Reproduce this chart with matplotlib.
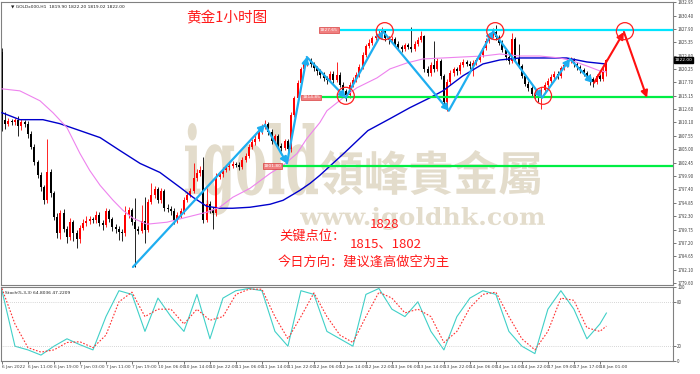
import numpy as np
import matplotlib
matplotlib.use('Agg')
import matplotlib.pyplot as plt
import matplotlib.transforms as mtransforms
from matplotlib.textpath import TextPath
from matplotlib.patches import PathPatch
from matplotlib.font_manager import FontProperties

plt.rcParams['font.family'] = ['Noto Sans CJK SC', 'DejaVu Sans']

# === OHLC (GOLD H1) ===
first_open = 1823.5
closes = [1810.5, 1809.8, 1810.3, 1810.1, 1810.6, 1809.4, 1810.2, 1809.9, 1808.0, 1805.5,
          1802.5, 1800.2, 1797.8, 1795.3, 1800.6, 1796.6, 1792.2, 1789.0, 1792.8, 1789.9,
          1788.3, 1791.2, 1789.0, 1787.9, 1790.1, 1791.0, 1791.3, 1791.8, 1791.5, 1792.6,
          1791.0, 1790.6, 1793.2, 1791.8, 1790.3, 1789.9, 1789.3, 1789.0, 1792.6, 1793.5,
          1791.2, 1789.8, 1789.5, 1791.3, 1789.6, 1795.0, 1796.4, 1797.4, 1795.3, 1797.0,
          1793.8, 1793.6, 1793.2, 1791.6, 1792.5, 1793.2, 1795.3, 1796.3, 1797.0, 1799.6,
          1800.5, 1801.0, 1791.6, 1794.6, 1793.4, 1792.8, 1799.8, 1800.3, 1801.0, 1801.6,
          1801.9, 1802.2, 1802.1, 1801.6, 1803.0, 1803.8, 1805.5, 1806.4, 1807.0, 1808.5,
          1809.3, 1809.8, 1808.3, 1806.6, 1807.5, 1805.6, 1805.2, 1806.5, 1805.0, 1811.6,
          1814.7, 1817.6, 1820.2, 1821.2, 1822.0, 1821.2, 1820.4, 1819.9, 1819.2, 1818.5,
          1818.1, 1819.4, 1818.2, 1819.2, 1817.3, 1816.0, 1815.3, 1817.2, 1818.2, 1819.2,
          1820.6, 1823.0, 1824.6, 1825.3, 1826.1, 1826.6, 1827.0, 1827.5, 1826.1, 1825.7,
          1826.0, 1825.1, 1824.4, 1824.0, 1824.8, 1824.5, 1824.0, 1825.0, 1825.8, 1826.5,
          1820.2, 1819.5, 1821.0, 1820.3, 1821.8, 1818.9, 1814.0, 1817.8, 1819.5, 1820.2,
          1819.8, 1821.0, 1821.6, 1821.3, 1820.9, 1821.4, 1821.9, 1823.0, 1824.2, 1825.6,
          1826.6, 1827.3, 1826.3, 1825.3, 1823.9, 1822.5, 1821.8, 1826.0, 1822.3, 1820.9,
          1819.0, 1817.5, 1816.6, 1815.6, 1815.2, 1815.0, 1816.3, 1817.3, 1818.0, 1818.8,
          1819.3, 1818.9, 1820.4, 1821.1, 1821.8, 1822.0, 1821.2, 1820.6, 1820.0, 1819.5,
          1818.9, 1818.3, 1817.8, 1818.9, 1818.4, 1819.9, 1822.0]
highs = [1824.3, 1812.0, 1810.9, 1810.7, 1811.0, 1811.4, 1810.8, 1810.6, 1810.3, 1808.4,
         1806.0, 1803.0, 1800.6, 1798.3, 1806.9, 1801.2, 1797.0, 1792.8, 1793.4, 1793.6,
         1790.5, 1792.0, 1791.6, 1789.6, 1790.6, 1791.7, 1792.4, 1792.3, 1792.2, 1793.2,
         1793.0, 1791.5, 1793.8, 1793.7, 1792.2, 1790.8, 1790.4, 1789.8, 1794.3, 1794.0,
         1793.9, 1795.7, 1790.4, 1794.5, 1796.0, 1795.6, 1798.5, 1798.0, 1797.8, 1797.6,
         1797.4, 1794.6, 1794.2, 1793.8, 1793.0, 1793.8, 1795.9, 1796.9, 1797.6, 1802.3,
         1801.2, 1801.8, 1803.5, 1797.6, 1795.2, 1794.0, 1800.4, 1800.9, 1801.6, 1802.1,
         1802.4, 1802.7, 1802.6, 1802.5, 1803.5, 1804.3, 1806.0, 1806.9, 1807.7, 1809.0,
         1809.8, 1810.6, 1810.2, 1808.8, 1808.0, 1807.9, 1806.2, 1807.0, 1806.9, 1812.1,
         1815.2, 1818.1, 1820.7, 1821.8, 1822.6, 1822.4, 1821.6, 1820.9, 1820.3, 1819.6,
         1819.0, 1819.9, 1819.8, 1821.6, 1819.6, 1817.7, 1816.5, 1817.7, 1818.7, 1819.7,
         1821.3, 1823.5, 1825.1, 1825.9, 1826.6, 1827.1, 1827.6, 1828.2, 1827.9, 1826.6,
         1826.5, 1826.4, 1825.5, 1824.9, 1825.3, 1825.2, 1828.2, 1825.5, 1826.3, 1827.4,
         1826.8, 1820.8, 1821.5, 1825.6, 1822.3, 1822.2, 1819.3, 1818.3, 1820.0, 1820.7,
         1820.6, 1821.5, 1822.1, 1822.0, 1821.7, 1821.9, 1822.4, 1823.5, 1824.7, 1826.1,
         1827.1, 1828.0, 1828.7, 1826.8, 1825.7, 1824.3, 1823.0, 1827.2, 1826.4, 1825.0,
         1821.3, 1819.4, 1817.9, 1817.0, 1816.0, 1815.7, 1816.8, 1817.8, 1818.5, 1819.3,
         1819.9, 1819.8, 1820.9, 1821.6, 1822.3, 1822.5, 1822.4, 1821.6, 1821.0, 1820.4,
         1819.9, 1819.3, 1818.7, 1819.4, 1819.3, 1820.9, 1822.2]
lows = [1808.5, 1808.8, 1809.4, 1809.7, 1809.6, 1807.6, 1808.6, 1809.2, 1807.2, 1805.0,
        1802.0, 1799.6, 1797.0, 1794.6, 1794.8, 1796.0, 1791.6, 1788.2, 1788.0, 1789.2,
        1787.2, 1787.8, 1787.5, 1786.3, 1787.2, 1789.6, 1790.5, 1790.8, 1790.9, 1791.0,
        1790.5, 1789.6, 1790.2, 1791.2, 1789.4, 1789.0, 1787.8, 1787.6, 1788.6, 1792.0,
        1790.6, 1782.6, 1788.9, 1789.0, 1787.2, 1789.2, 1794.6, 1795.8, 1794.8, 1794.8,
        1793.2, 1793.0, 1792.6, 1790.8, 1791.0, 1792.0, 1792.7, 1794.9, 1795.9, 1796.6,
        1799.0, 1800.0, 1791.0, 1791.2, 1792.8, 1789.8, 1792.3, 1799.3, 1799.8, 1800.6,
        1801.1, 1801.4, 1801.6, 1801.0, 1801.2, 1802.5, 1803.4, 1805.0, 1805.9, 1806.6,
        1808.0, 1808.9, 1807.8, 1806.0, 1806.2, 1805.0, 1804.6, 1804.8, 1803.5, 1804.5,
        1811.2, 1814.3, 1817.2, 1819.8, 1820.8, 1820.6, 1819.8, 1819.2, 1818.6, 1817.9,
        1817.4, 1817.7, 1817.6, 1817.8, 1816.8, 1815.5, 1814.2, 1814.8, 1816.8, 1817.8,
        1818.8, 1820.2, 1822.6, 1824.2, 1824.9, 1825.7, 1826.2, 1826.6, 1825.6, 1825.1,
        1825.2, 1824.6, 1823.9, 1823.4, 1823.6, 1824.0, 1823.5, 1823.6, 1824.6, 1825.4,
        1819.7, 1818.9, 1819.0, 1819.7, 1819.9, 1818.4, 1813.5, 1812.3, 1817.3, 1819.0,
        1819.2, 1819.4, 1820.6, 1820.8, 1820.3, 1819.0, 1821.0, 1821.5, 1822.6, 1823.8,
        1825.2, 1826.2, 1825.8, 1824.8, 1823.4, 1822.0, 1821.2, 1821.4, 1821.8, 1820.4,
        1818.5, 1817.0, 1816.1, 1815.1, 1814.6, 1814.0, 1812.7, 1815.9, 1816.9, 1817.6,
        1818.4, 1818.4, 1818.5, 1820.0, 1820.7, 1821.4, 1820.7, 1820.1, 1819.5, 1819.0,
        1818.4, 1817.3, 1816.8, 1817.4, 1817.9, 1818.0, 1819.0]

# === 移動平均 (バー位置, 価格) ===
ma_blue_idx = [0, 5.5, 12.6, 17.8, 24, 30.2, 36.3, 42.5, 48.6, 54.8, 58.8, 63, 67, 71, 76.3, 82.5,
               86.5, 91.7, 94.8, 97.8, 105.5, 112.6, 119.4, 125.5, 131.7, 135.7, 141.8, 148,
               153.2, 159.4, 165.5, 173.8, 180, 185.8]
ma_blue = [1811.95, 1810.63, 1810.63, 1809.87, 1808.55, 1807.22, 1804.76, 1802.31, 1800.6,
           1797.76, 1795.87, 1794.17, 1793.79, 1793.79, 1793.98, 1794.55, 1795.3, 1797.2,
           1798.52, 1800.04, 1804.39, 1808.55, 1810.82, 1812.9, 1814.79, 1816.11, 1818.95,
           1821.22, 1821.98, 1822.36, 1822.36, 1822.36, 1821.6, 1821.22]
ma_violet_idx = [0, 5.5, 11.7, 15.7, 20, 24, 27, 30.2, 34.2, 37.2, 40.3, 44.6, 50.8, 56.9, 63,
                 67, 71, 76.3, 82.5, 86.5, 90.8, 93.8, 97.8, 100, 105, 109.2, 115.4, 119.4,
                 124.6, 129.5, 135.7, 141.8, 148, 153.2, 159.4, 165.5, 171.7, 175.7, 180, 184,
                 185.8]
ma_violet = [1816.49, 1816.11, 1814.22, 1811.95, 1809.11, 1804.2, 1800.98, 1798.14, 1795.3,
             1793.41, 1791.9, 1790.76, 1791.14, 1792.09, 1793.03, 1793.98, 1795.87, 1797.57,
             1800.41, 1801.93, 1804.2, 1807.03, 1810.06, 1812.33, 1814.79, 1816.68, 1818.57,
             1820.28, 1821.41, 1822.17, 1822.36, 1822.55, 1822.73, 1823.11, 1822.73, 1822.73,
             1822.36, 1821.79, 1820.84, 1819.9, 1819.71]

# === ストキャスティクス ===
stoch_idx = list(range(0, 185, 4)) + [186]
stoch_k = [95, 20, 15, 8, 20, 30, 22, 15, 60, 95, 90, 40, 85, 60, 40, 90, 30, 85, 95, 98,
           95, 40, 20, 95, 90, 40, 30, 20, 90, 98, 70, 60, 80, 40, 15, 60, 85, 95, 90, 40,
           20, 10, 70, 95, 70, 30, 50, 64.8]
stoch_d = [98, 50, 18, 12, 15, 25, 26, 18, 35, 80, 93, 60, 70, 70, 50, 70, 55, 60, 90, 97,
           97, 60, 30, 60, 92, 60, 35, 25, 60, 93, 85, 65, 70, 60, 25, 40, 72, 90, 93, 60,
           30, 15, 40, 85, 82, 45, 40, 47.2]

# === 描画オブジェクト ===
zigzag_idx = [40.3, 80.9, 87.7, 93.8, 105.8, 117.2, 137.5, 151.1, 166.2, 174.8, 181.8]
zigzag_price = [1782.63, 1809.68, 1802.31, 1822.55, 1814.79, 1827.46, 1812.33, 1827.46,
                1814.79, 1822.17, 1817.63]
forecast_idx = [182.2, 191.4, 198.5]
forecast_price = [1817.63, 1827.3, 1814.79]
circle_idx = [117.8, 105.8, 151.8, 166.5, 191.7]
circle_price = [1827.46, 1815.17, 1827.46, 1815.17, 1827.46]
levels = [1827.65, 1814.85, 1801.8]
level_labels = ['1827.65', '1814.85', '1801.80']
level_start = [104, 98.5, 86.5]
level_colors = ['#00e5ff', '#00ee44', '#00ee44']

price_ticks = [1832.95, 1830.40, 1827.90, 1825.35, 1822.80, 1820.25, 1817.70, 1815.15,
               1812.60, 1810.10, 1807.55, 1805.00, 1802.45, 1799.90, 1797.40, 1794.85,
               1792.30, 1789.75, 1787.20, 1784.65, 1782.10, 1779.60]
time_labels = ['6 Jan 2022', '6 Jan 11:00', '6 Jan 19:00', '7 Jan 03:00', '7 Jan 11:00',
               '7 Jan 19:00', '10 Jan 06:00', '10 Jan 14:00', '10 Jan 22:00', '11 Jan 06:00',
               '11 Jan 14:00', '11 Jan 22:00', '12 Jan 06:00', '12 Jan 14:00', '12 Jan 22:00',
               '13 Jan 06:00', '13 Jan 14:00', '13 Jan 22:00', '14 Jan 06:00', '14 Jan 14:00',
               '14 Jan 22:00', '17 Jan 09:00', '17 Jan 17:00', '18 Jan 01:00']

W, H = 700, 374
fig = plt.figure(figsize=(W / 100, H / 100), dpi=100)
ax = fig.add_axes([1 / W, 1 - 285 / H, 672 / W, 283 / H])
ax2 = fig.add_axes([1 / W, 1 - 361 / H, 672 / W, 74 / H])

XMIN, XMAX = -0.3, 206.5
for a in (ax, ax2):
    a.set_xlim(XMIN, XMAX)
    for sp in a.spines.values():
        sp.set_color('#808080')
        sp.set_linewidth(0.8)
ax.set_ylim(1779.2, 1833.0)
ax2.set_ylim(0, 100)

# --- watermark ---
def stretched_text(s, box, prop):
    tp = TextPath((0, 0), s, size=100, prop=prop)
    ext = tp.get_extents()
    x0, ytop, x1, ybot = box
    tr = (mtransforms.Affine2D().translate(-ext.x0, -ext.y0)
          .scale((x1 - x0) / ext.width, (ybot - ytop) / ext.height)
          .translate(x0, H - ybot))
    ax.add_patch(PathPatch(tp, transform=tr, facecolor='#e3dccb', edgecolor='none', zorder=0.5))

stretched_text('igold', (185, 123, 318, 215), FontProperties(family='DejaVu Serif', weight='bold'))
stretched_text('領峰貴金屬', (320, 150, 540, 195), FontProperties(family='Noto Sans CJK TC', weight='bold'))
stretched_text('www.igoldhk.com', (300, 207, 545, 230), FontProperties(family='DejaVu Serif', weight='bold'))

# --- candles ---
c = np.array(closes)
o = np.array([first_open] + closes[:-1])
hi = np.array(highs)
lo = np.array(lows)
x = np.arange(len(c))
col = np.where(c >= o, '#ff0000', '#000000')
ax.vlines(x, lo, hi, colors=col, lw=0.6, zorder=2)
ax.bar(x, np.maximum(np.abs(c - o), 0.15), bottom=np.minimum(o, c), width=0.62,
       color=col, zorder=2.1)

# --- MAs ---
ax.plot(ma_blue_idx, ma_blue, color='#0000cc', lw=1.0, zorder=3)
ax.plot(ma_violet_idx, ma_violet, color='#ee82ee', lw=0.8, zorder=3)

# --- levels ---
for lv, lab, st, cc in zip(levels, level_labels, level_start, level_colors):
    ax.hlines(lv, st, XMAX, colors=cc, lw=1.6, zorder=3)
    ax.text(st - 0.6, lv, lab, fontsize=3.2, color='white', ha='right', va='center',
            family='DejaVu Sans', zorder=4,
            bbox=dict(boxstyle='square,pad=0.15', fc='#f08080', ec='#d02020', lw=0.4))

# --- zigzag ---
for i in range(len(zigzag_idx) - 1):
    ax.annotate('', xy=(zigzag_idx[i + 1], zigzag_price[i + 1]),
                xytext=(zigzag_idx[i], zigzag_price[i]),
                arrowprops=dict(arrowstyle='-|>,head_length=0.35,head_width=0.2',
                                color='#1eaef0', lw=1.6, shrinkA=0, shrinkB=0), zorder=5)
for i in range(len(forecast_idx) - 1):
    ax.annotate('', xy=(forecast_idx[i + 1], forecast_price[i + 1]),
                xytext=(forecast_idx[i], forecast_price[i]),
                arrowprops=dict(arrowstyle='-|>,head_length=0.4,head_width=0.2',
                                color='#ff1010', lw=1.5, shrinkA=0, shrinkB=0), zorder=5)
ax.scatter(circle_idx, circle_price, s=150, facecolors='none', edgecolors='#ff2020',
           linewidths=0.9, zorder=6)

# --- texts ---
ax.text(10 / 672, 1 - 5 / 283, '\u25bc GOLDx000,H1  1819.90 1822.20 1819.02 1822.00',
        transform=ax.transAxes, fontsize=3.2, family='DejaVu Sans', va='center', color='#202020')
fig.text(227 / W, 1 - 18 / H, '黄金1小时图', color='#ff1a1a', fontsize=10.5, ha='center', va='center')
fig.text(385 / W, 1 - 225 / H, '1828', color='#ff1a1a', fontsize=9.5, ha='center', va='center')
fig.text(279 / W, 1 - 236 / H, '关键点位：', color='#ff1a1a', fontsize=9.5, ha='left', va='center')
fig.text(386 / W, 1 - 244 / H, '1815、1802', color='#ff1a1a', fontsize=9.5, ha='center', va='center')
fig.text(278 / W, 1 - 262 / H, '今日方向：建议逢高做空为主', color='#ff1a1a', fontsize=9.5,
         ha='left', va='center')

# --- price axis ---
ax.yaxis.tick_right()
ax.set_yticks(price_ticks)
ax.set_yticklabels([f'{t:.2f}' for t in price_ticks])
ax.tick_params(axis='y', labelsize=3.2, length=2, width=0.5, pad=1, colors='#404040')
ax.set_xticks([])
ax.text(1.002, 1822.0, '1822.00', transform=ax.get_yaxis_transform(), fontsize=3.2,
        color='white', va='center', ha='left', family='DejaVu Sans',
        bbox=dict(boxstyle='square,pad=0.15', fc='black', ec='black'))

# --- stochastic ---
ax2.plot(stoch_idx, stoch_k, color='#40d0c8', lw=0.8)
ax2.plot(stoch_idx, stoch_d, color='#ff3030', lw=0.8, ls=(0, (1.5, 1.5)))
for lv in (80, 20):
    ax2.axhline(lv, color='#b0b0b0', lw=0.5, ls=(0, (1, 2)))
ax2.text(4 / 672, 0.95, 'Stoch(5,3,3) 64.8036 47.2209', transform=ax2.transAxes, fontsize=3.2,
         family='DejaVu Sans', va='top', color='#202020')
ax2.yaxis.tick_right()
ax2.set_yticks([100, 80, 20, 0])
ax2.tick_params(axis='y', labelsize=3.2, length=2, width=0.5, pad=1, colors='#404040')
ax2.set_xticks(np.arange(0, 185, 8))
ax2.set_xticklabels(time_labels, ha='left', family='DejaVu Sans')
ax2.tick_params(axis='x', labelsize=3.2, length=2, width=0.5, pad=1, colors='#404040')

fig.savefig('out.png', dpi=100, facecolor='white')
